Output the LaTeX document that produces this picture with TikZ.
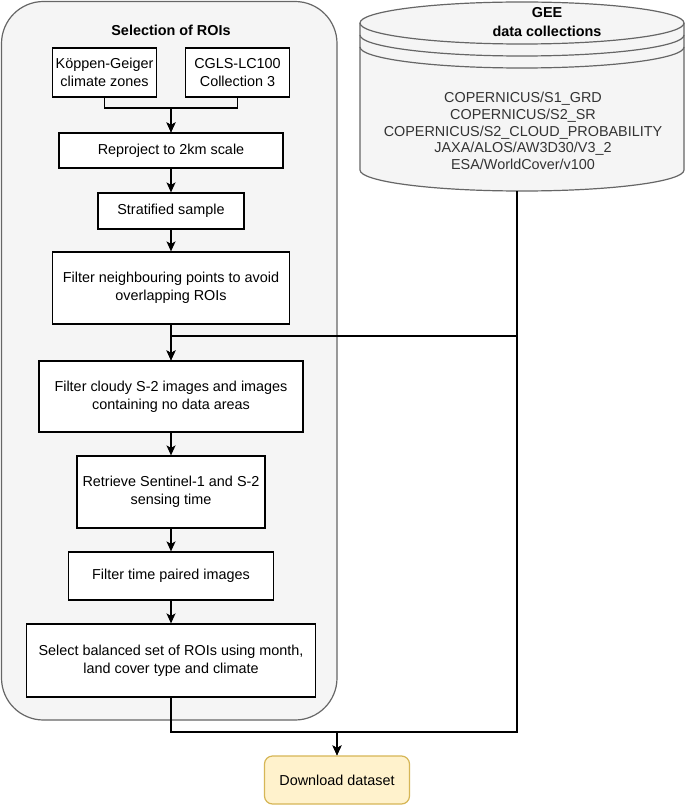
\documentclass[tikz,border=0pt]{standalone}
\usepackage{fontspec}
\setmainfont{Liberation Sans}
\usetikzlibrary{arrows.meta}
\definecolor{grayfill}{HTML}{F5F5F5}
\definecolor{graystroke}{HTML}{666666}
\definecolor{txtgray}{HTML}{333333}
\definecolor{dlfill}{HTML}{FFF2CC}
\definecolor{dlstroke}{HTML}{D6B656}
\begin{document}
\begin{tikzpicture}[x=1pt,y=-1pt,
  box/.style={draw=black, fill=white, line width=1.2pt, inner sep=0pt, align=center, font=\fontsize{14.4}{18.3}\selectfont},
  arr/.style={draw=black, line width=1.3pt, -{Stealth[length=10pt,width=9pt,inset=2.5pt]}},
  grp/.style={fill=grayfill, draw=graystroke, line width=1.2pt},
  boldlbl/.style={font=\fontsize{14.4}{19}\selectfont\bfseries, align=center, inner sep=0pt},
]
\useasboundingbox (0,0) rectangle (685,805);
\fill[white] (0,0) rectangle (685,805);
% group container
\draw[grp, rounded corners=42pt] (1.5,1.5) rectangle (337,720);
\node[boldlbl] (title) at (171,30) {Selection of ROIs};
% cylinder
\path[grp] (360,23) -- (360,170) arc[start angle=180, end angle=360, x radius=162pt, y radius=21pt]
  -- (684,23) arc[start angle=0, end angle=180, x radius=162pt, y radius=21pt] -- cycle;
\draw[draw=graystroke, line width=1.2pt] (360,23) arc[start angle=180, end angle=360, x radius=162pt, y radius=21pt];
\draw[draw=graystroke, line width=1.2pt] (360,35) arc[start angle=180, end angle=360, x radius=162pt, y radius=21pt];
\draw[draw=graystroke, line width=1.2pt] (360,47) arc[start angle=180, end angle=360, x radius=162pt, y radius=21pt];
\node[boldlbl] (geet) at (547,22.5) {GEE\\data collections};
\node[font=\fontsize{14.4}{16.6}\selectfont, align=center, text=txtgray, inner sep=0pt] (geed) at (523,131)
  {COPERNICUS/S1\_GRD\\COPERNICUS/S2\_SR\\COPERNICUS/S2\_CLOUD\_PROBABILITY\\JAXA/ALOS/AW3D30/V3\_2\\ESA/WorldCover/v100};
\coordinate (cylb) at (517,191);
% boxes
\node[box, minimum width=104pt, minimum height=49pt] (kg) at (104.5,72.5) {Köppen-Geiger\\climate zones};
\node[box, minimum width=104pt, minimum height=49pt] (cg) at (237.5,72.5) {CGLS-LC100\\Collection 3};
\node[box, minimum width=224pt, minimum height=35pt] (rp) at (171,150.5) {Reproject to 2km scale};
\node[box, minimum width=146pt, minimum height=36pt] (st) at (171,211) {Stratified sample};
\node[box, minimum width=237pt, minimum height=72pt] (fn) at (171,288) {Filter neighbouring points to avoid\\overlapping ROIs};
\node[box, minimum width=264pt, minimum height=71pt] (cl) at (171,396.5) {Filter cloudy S-2 images and images\\containing no data areas};
\node[box, minimum width=188pt, minimum height=72pt] (rt) at (171,492) {Retrieve Sentinel-1 and S-2\\sensing time};
\node[box, minimum width=205pt, minimum height=48pt] (tp) at (171,576) {Filter time paired images};
\node[box, minimum width=289pt, minimum height=73pt] (sel) at (171,660.5) {Select balanced set of ROIs using month,\\land cover type and climate};
\node[box, draw=dlstroke, fill=dlfill, rounded corners=8pt, minimum width=145pt, minimum height=48pt] (dl) at (337,780) {Download dataset};
% connectors
\coordinate (m1) at (171,108);
\coordinate (j1) at (171,336);
\coordinate (j2) at (337,732);
\draw[arr] (kg.south) |- (m1) -- (rp.north);
\draw[arr] (cg.south) |- (m1) -- (rp.north);
\draw[arr] (rp) -- (st);
\draw[arr] (st) -- (fn);
\draw[arr] (fn) -- (cl);
\draw[arr] (cylb) |- (j1) -- (cl.north);
\draw[arr] (cl) -- (rt);
\draw[arr] (rt) -- (tp);
\draw[arr] (tp) -- (sel);
\draw[arr] (sel.south) |- (j2) -- (dl.north);
\draw[arr] (cylb) |- (j2) -- (dl.north);
\end{tikzpicture}
\end{document}
